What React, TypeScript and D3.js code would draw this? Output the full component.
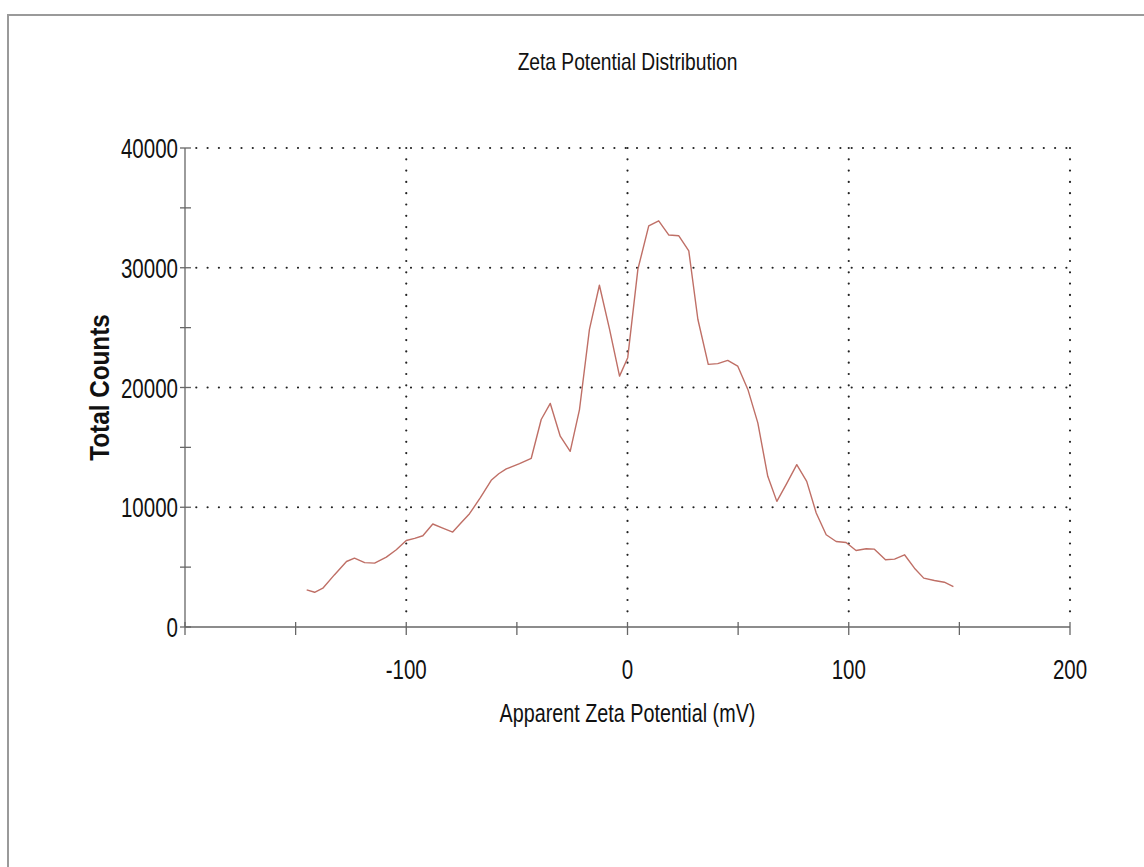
import React, { useRef, useEffect } from 'react';
import * as d3 from 'd3';

// apparent zeta potential (mV) and total counts
const zetaMv = [
  -145, -141.4, -137.7, -132.5, -127, -123.4, -118.8, -114.3, -109, -104.5,
  -100, -96.2, -92.5, -88, -83.5, -79, -75.2, -71.4, -66.5, -61.6,
  -58.2, -54.8, -48.8, -43.5, -39, -34.9, -30.4, -25.9, -21.7, -17.2,
  -12.7, -8.1, -3.6, 0.1, 4.7, 9.6, 14.1, 18.7, 23.2, 27.7,
  31.8, 36.5, 40.8, 45.3, 49.8, 54.4, 58.9, 63.4, 67.5, 72,
  76.5, 81, 85.3, 89.8, 94.3, 98.8, 103.3, 107.9, 111.6, 116.6,
  120.7, 125.2, 129.7, 133.9, 138.7, 143.2, 147.3,
];
const totalCounts = [
  3100, 2900, 3240, 4350, 5470, 5750, 5380, 5330, 5830, 6450,
  7220, 7400, 7620, 8600, 8260, 7930, 8700, 9460, 10800, 12250,
  12800, 13200, 13640, 14090, 17330, 18670, 15930, 14670, 18160, 24860,
  28540, 24860, 20950, 22490, 29880, 33500, 33920, 32730, 32670, 31410,
  25700, 21930, 21990, 22260, 21790, 19840, 17050, 12580, 10490, 12000,
  13560, 12160, 9520, 7700, 7140, 7060, 6390, 6530, 6500, 5610,
  5670, 6030, 4910, 4080, 3880, 3740, 3370,
];

const xMajorTicks = [-100, 0, 100, 200];
const xMinorTicks = [-200, -150, -50, 50, 150];
const yMajorTicks = [0, 10000, 20000, 30000, 40000];
const yMinorTicks = [5000, 15000, 25000, 35000];

const ChartView = () => {
  const svgRef = useRef(null);

  useEffect(() => {
    const svg = d3.select(svgRef.current);
    svg.selectAll('*').remove();

    const width = 1144, height = 867;
    const left = 185, right = 1070, top = 148, bottom = 627;
    const font = 'Liberation Sans, Arial, sans-serif';

    svg.attr('width', width).attr('height', height);
    svg.append('rect').attr('width', width).attr('height', height).attr('fill', '#fff');

    // outer frame (top and left edges only are visible)
    svg.append('path')
      .attr('d', `M8,${height} V15 H${width}`)
      .attr('fill', 'none').attr('stroke', '#9a9a9a').attr('stroke-width', 2);

    const x = d3.scaleLinear().domain([-200, 200]).range([left, right]);
    const y = d3.scaleLinear().domain([0, 40000]).range([bottom, top]);

    // dotted grid
    const grid = svg.append('g')
      .attr('stroke', '#222').attr('stroke-width', 2.2)
      .attr('stroke-linecap', 'round').attr('stroke-dasharray', '0,11.3');
    yMajorTicks.filter(d => d > 0).forEach(d => {
      grid.append('line').attr('x1', left + 11.3).attr('x2', right).attr('y1', y(d)).attr('y2', y(d));
    });
    xMajorTicks.forEach(d => {
      grid.append('line').attr('x1', x(d)).attr('x2', x(d)).attr('y1', top).attr('y2', bottom - 5);
    });

    // axes
    const axis = svg.append('g').attr('stroke', '#666').attr('stroke-width', 1.3);
    axis.append('line').attr('x1', left).attr('x2', left).attr('y1', top).attr('y2', bottom);
    axis.append('line').attr('x1', left).attr('x2', right).attr('y1', bottom).attr('y2', bottom);
    [...yMajorTicks, ...yMinorTicks].forEach(d => {
      axis.append('line').attr('x1', left - 5).attr('x2', left + 6).attr('y1', y(d)).attr('y2', y(d));
    });
    [...xMajorTicks, ...xMinorTicks].forEach(d => {
      axis.append('line').attr('x1', x(d)).attr('x2', x(d)).attr('y1', bottom - 5).attr('y2', bottom + 8);
    });

    // the original text is narrow and tall, so squeeze it sideways
    const label = (txt, px, py, size, anchor, squeeze = 0.76, rotate = 0, weight = 'normal') => {
      svg.append('text')
        .attr('transform', `translate(${px},${py}) rotate(${rotate}) scale(${squeeze},1)`)
        .attr('text-anchor', anchor)
        .attr('font-family', font)
        .attr('font-size', size)
        .attr('font-weight', weight)
        .attr('fill', '#111')
        .text(txt);
    };

    yMajorTicks.forEach(d => label(String(d), left - 7, y(d) + 10, 27, 'end'));
    xMajorTicks.forEach(d => label(String(d), x(d), 679, 27, 'middle'));

    label('Zeta Potential Distribution', x(0), 70, 24, 'middle', 0.8);
    label('Apparent Zeta Potential (mV)', x(0), 722, 26, 'middle');
    label('Total Counts', 109, (top + bottom) / 2, 27, 'middle', 0.9, -90, 'bold');

    // the distribution curve
    const line = d3.line()
      .x((d, i) => x(zetaMv[i]))
      .y(d => y(d));
    svg.append('path')
      .datum(totalCounts)
      .attr('fill', 'none')
      .attr('stroke', '#bf6f66')
      .attr('stroke-width', 1.4)
      .attr('stroke-linejoin', 'round')
      .attr('d', line);
  }, []);

  return <svg ref={svgRef} style={{ position: 'absolute', left: 0, top: 0 }}></svg>;
};

export default function App() {
  return <ChartView />;
}
